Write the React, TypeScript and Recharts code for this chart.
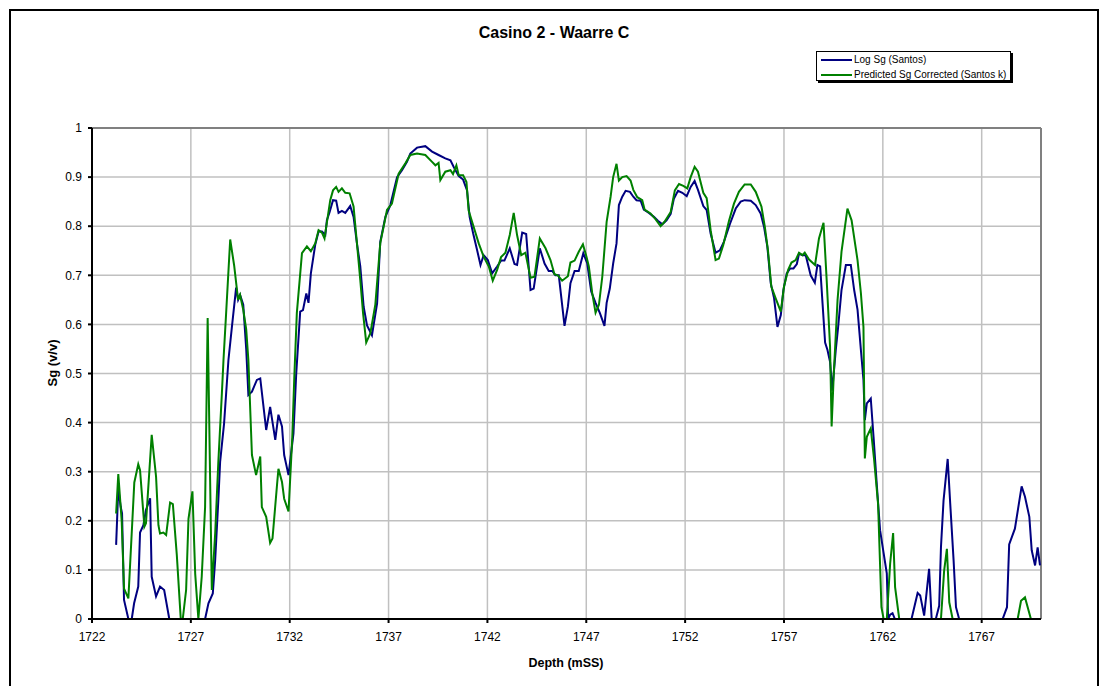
import React from 'react'
import { LineChart, Line, XAxis, YAxis, CartesianGrid, ReferenceLine } from 'recharts'

// Log Sg (Santos) – depth (mSS) and gas saturation
const logDepth = [
  1723.22, 1723.33, 1723.45, 1723.52, 1723.62, 1723.84, 1724.01, 1724.13, 1724.34, 1724.43,
  1724.6, 1724.73, 1724.94, 1725.02, 1725.24, 1725.44, 1725.65, 1725.91, 1727.72, 1727.89,
  1728.11, 1728.23, 1728.39, 1728.48, 1728.68, 1728.9, 1729.09, 1729.29, 1729.39, 1729.49,
  1729.65, 1729.8, 1729.91, 1730.09, 1730.34, 1730.51, 1730.81, 1731.01, 1731.27, 1731.43,
  1731.61, 1731.72, 1731.94, 1732.19, 1732.33, 1732.53, 1732.67, 1732.84, 1732.95, 1733.07,
  1733.29, 1733.46, 1733.63, 1733.8, 1733.88, 1734.02, 1734.19, 1734.35, 1734.47, 1734.64,
  1734.81, 1735.06, 1735.23, 1735.4, 1735.57, 1735.74, 1735.91, 1736.16, 1736.42, 1736.58,
  1736.84, 1737.09, 1737.43, 1737.68, 1737.93, 1738.1, 1738.44, 1738.86, 1739.2, 1739.53,
  1739.87, 1740.13, 1740.29, 1740.55, 1740.77, 1740.97, 1741.1, 1741.28, 1741.48, 1741.65,
  1741.81, 1742.02, 1742.24, 1742.49, 1742.69, 1742.86, 1743.13, 1743.37, 1743.5, 1743.76,
  1743.96, 1744.18, 1744.34, 1744.65, 1744.89, 1745.1, 1745.28, 1745.44, 1745.61, 1745.9,
  1746.07, 1746.2, 1746.41, 1746.62, 1746.85, 1747.05, 1747.25, 1747.47, 1747.69, 1747.92,
  1748.03, 1748.19, 1748.36, 1748.53, 1748.65, 1748.82, 1748.99, 1749.21, 1749.38, 1749.54,
  1749.75, 1749.91, 1750.17, 1750.42, 1750.62, 1750.85, 1751.06, 1751.27, 1751.43, 1751.64,
  1751.86, 1752.08, 1752.28, 1752.48, 1752.65, 1752.92, 1753.09, 1753.29, 1753.54, 1753.76,
  1753.96, 1754.27, 1754.56, 1754.81, 1755.01, 1755.32, 1755.57, 1755.82, 1755.99, 1756.16,
  1756.33, 1756.5, 1756.67, 1756.84, 1756.97, 1757.14, 1757.31, 1757.48, 1757.65, 1757.76,
  1757.93, 1758.1, 1758.35, 1758.56, 1758.69, 1758.83, 1758.95, 1759.08, 1759.2, 1759.33,
  1759.44, 1759.62, 1759.74, 1759.91, 1760.13, 1760.38, 1760.55, 1760.72, 1760.89, 1761.02,
  1761.09, 1761.19, 1761.39, 1761.53, 1761.7, 1761.86, 1762.04, 1762.2, 1762.27, 1762.37,
  1762.49, 1762.61, 1763.45, 1763.76, 1763.89, 1764.09, 1764.34, 1764.47, 1764.68, 1764.85,
  1764.94, 1765.07, 1765.28, 1765.41, 1765.58, 1765.7, 1765.86, 1768.06, 1768.28, 1768.39,
  1768.68, 1769.02, 1769.19, 1769.41, 1769.53, 1769.7, 1769.83, 1769.95,
]
const logSg = [
  0.151, 0.266, 0.229, 0.215, 0.039, 0, 0, 0.032, 0.066, 0.176,
  0.191, 0.222, 0.246, 0.086, 0.046, 0.066, 0.059, 0, 0, 0.032,
  0.052, 0.12, 0.242, 0.32, 0.398, 0.527, 0.6, 0.675, 0.65, 0.66,
  0.64, 0.55, 0.456, 0.463, 0.487, 0.49, 0.385, 0.432, 0.365, 0.416,
  0.392, 0.334, 0.293, 0.378, 0.5, 0.626, 0.629, 0.663, 0.644, 0.704,
  0.762, 0.789, 0.789, 0.782, 0.812, 0.829, 0.853, 0.852, 0.827, 0.831,
  0.827, 0.841, 0.819, 0.765, 0.718, 0.636, 0.598, 0.578, 0.643, 0.768,
  0.819, 0.843, 0.9, 0.914, 0.931, 0.948, 0.96, 0.963, 0.952, 0.945,
  0.938, 0.934, 0.921, 0.902, 0.895, 0.873, 0.819, 0.785, 0.751, 0.721,
  0.741, 0.731, 0.704, 0.718, 0.73, 0.73, 0.755, 0.723, 0.721, 0.787,
  0.784, 0.67, 0.673, 0.755, 0.724, 0.709, 0.709, 0.7, 0.7, 0.597,
  0.636, 0.684, 0.709, 0.709, 0.745, 0.724, 0.667, 0.644, 0.623, 0.597,
  0.644, 0.673, 0.724, 0.765, 0.843, 0.86, 0.872, 0.87, 0.86, 0.853,
  0.852, 0.834, 0.827, 0.819, 0.811, 0.804, 0.812, 0.825, 0.856, 0.872,
  0.868, 0.861, 0.88, 0.892, 0.874, 0.841, 0.833, 0.785, 0.746, 0.751,
  0.768, 0.805, 0.836, 0.85, 0.853, 0.852, 0.843, 0.826, 0.799, 0.758,
  0.684, 0.653, 0.595, 0.619, 0.67, 0.704, 0.714, 0.714, 0.723, 0.744,
  0.741, 0.741, 0.7, 0.685, 0.721, 0.718, 0.643, 0.563, 0.548, 0.524,
  0.465, 0.548, 0.595, 0.67, 0.721, 0.721, 0.67, 0.63, 0.548, 0.487,
  0.405, 0.439, 0.449, 0.371, 0.27, 0.181, 0.134, 0.093, 0, 0.009,
  0.012, 0, 0, 0.053, 0.048, 0.007, 0.102, 0, 0, 0.027,
  0.146, 0.241, 0.326, 0.234, 0.119, 0.024, 0, 0, 0.024, 0.152,
  0.184, 0.27, 0.249, 0.208, 0.14, 0.109, 0.146, 0.109,
]

// Predicted Sg Corrected (Santos k)
const predDepth = [
  1723.22, 1723.33, 1723.5, 1723.62, 1723.84, 1724.14, 1724.34, 1724.43, 1724.65, 1724.73,
  1725.02, 1725.24, 1725.36, 1725.44, 1725.61, 1725.75, 1725.95, 1726.09, 1726.29, 1726.49,
  1726.59, 1726.76, 1726.88, 1727.08, 1727.22, 1727.38, 1727.55, 1727.72, 1727.85, 1728.06,
  1728.23, 1728.39, 1728.57, 1728.65, 1728.78, 1728.99, 1729.19, 1729.39, 1729.49, 1729.65,
  1729.8, 1729.91, 1730.09, 1730.3, 1730.51, 1730.59, 1730.81, 1731.01, 1731.13, 1731.35,
  1731.43, 1731.61, 1731.72, 1731.94, 1732.13, 1732.23, 1732.36, 1732.62, 1732.87, 1733.07,
  1733.29, 1733.46, 1733.63, 1733.76, 1734.05, 1734.19, 1734.35, 1734.47, 1734.64, 1734.81,
  1735.03, 1735.23, 1735.37, 1735.57, 1735.71, 1735.87, 1736.08, 1736.33, 1736.58, 1736.92,
  1737.17, 1737.51, 1737.85, 1738.1, 1738.44, 1738.86, 1739.2, 1739.37, 1739.53, 1739.62,
  1739.87, 1740.13, 1740.26, 1740.43, 1740.55, 1740.77, 1740.94, 1741.05, 1741.31, 1741.56,
  1741.81, 1742.07, 1742.27, 1742.49, 1742.69, 1742.91, 1743.13, 1743.33, 1743.5, 1743.71,
  1743.92, 1744.18, 1744.38, 1744.65, 1744.94, 1745.19, 1745.39, 1745.56, 1745.78, 1746.07,
  1746.2, 1746.41, 1746.62, 1746.83, 1747.01, 1747.13, 1747.3, 1747.47, 1747.64, 1747.81,
  1748.03, 1748.23, 1748.36, 1748.53, 1748.65, 1748.82, 1749.04, 1749.24, 1749.38, 1749.58,
  1749.83, 1749.95, 1750.25, 1750.51, 1750.76, 1750.96, 1751.27, 1751.48, 1751.69, 1751.91,
  1752.11, 1752.28, 1752.48, 1752.65, 1752.92, 1753.09, 1753.29, 1753.54, 1753.71, 1753.93,
  1754.22, 1754.47, 1754.72, 1755.01, 1755.32, 1755.57, 1755.86, 1756.03, 1756.19, 1756.36,
  1756.58, 1756.84, 1757.0, 1757.21, 1757.38, 1757.59, 1757.76, 1757.93, 1758.05, 1758.27,
  1758.57, 1758.77, 1759.0, 1759.16, 1759.33, 1759.41, 1759.52, 1759.71, 1759.91, 1760.21,
  1760.42, 1760.72, 1760.89, 1761.02, 1761.09, 1761.19, 1761.39, 1761.56, 1761.76, 1761.93,
  1762.04, 1762.2, 1762.37, 1762.52, 1762.62, 1762.83, 1764.94, 1765.1, 1765.24, 1765.36,
  1765.53, 1768.82, 1768.99, 1769.19, 1769.49, 1770.0,
]
const predSg = [
  0.215, 0.295, 0.201, 0.062, 0.042, 0.278, 0.315, 0.303, 0.188, 0.195,
  0.375, 0.29, 0.191, 0.174, 0.176, 0.171, 0.237, 0.234, 0.13, 0,
  0, 0.059, 0.204, 0.26, 0.092, 0, 0.086, 0.228, 0.613, 0.059,
  0.174, 0.32, 0.46, 0.527, 0.62, 0.773, 0.72, 0.65, 0.66, 0.63,
  0.59, 0.527, 0.334, 0.293, 0.331, 0.228, 0.208, 0.155, 0.164, 0.269,
  0.306, 0.279, 0.245, 0.219, 0.37, 0.49, 0.623, 0.745, 0.759, 0.749,
  0.765, 0.792, 0.787, 0.775, 0.853, 0.873, 0.88, 0.87, 0.877, 0.868,
  0.867, 0.84, 0.779, 0.69, 0.623, 0.563, 0.582, 0.64, 0.765, 0.833,
  0.846, 0.907, 0.928, 0.945, 0.948, 0.945, 0.931, 0.924, 0.929, 0.894,
  0.911, 0.914, 0.906, 0.924, 0.904, 0.904, 0.89, 0.832, 0.798, 0.765,
  0.738, 0.718, 0.689, 0.711, 0.737, 0.746, 0.782, 0.827, 0.782, 0.741,
  0.746, 0.695, 0.697, 0.775, 0.755, 0.731, 0.702, 0.7, 0.689, 0.698,
  0.726, 0.73, 0.748, 0.763, 0.738, 0.718, 0.664, 0.624, 0.64, 0.697,
  0.809, 0.86, 0.9, 0.927, 0.893, 0.9, 0.902, 0.893, 0.874, 0.859,
  0.853, 0.834, 0.826, 0.814, 0.8, 0.809, 0.829, 0.873, 0.886, 0.882,
  0.877, 0.9, 0.921, 0.911, 0.868, 0.857, 0.792, 0.731, 0.734, 0.762,
  0.811, 0.846, 0.87, 0.885, 0.885, 0.87, 0.84, 0.799, 0.751, 0.677,
  0.653, 0.626, 0.677, 0.711, 0.726, 0.731, 0.746, 0.741, 0.746, 0.732,
  0.721, 0.775, 0.807, 0.69, 0.555, 0.392, 0.5, 0.65, 0.748, 0.836,
  0.812, 0.731, 0.664, 0.595, 0.327, 0.371, 0.388, 0.324, 0.234, 0.024,
  0, 0, 0.113, 0.175, 0.065, 0, 0, 0.098, 0.143, 0.034,
  0, 0, 0.037, 0.044, 0, 0,
]

const depthTicks = [1722, 1727, 1732, 1737, 1742, 1747, 1752, 1757, 1762, 1767]
const sgTicks = [0, 0.1, 0.2, 0.3, 0.4, 0.5, 0.6, 0.7, 0.8, 0.9, 1]

const logData = logDepth.map((depth, i) => ({ depth, sg: logSg[i] }))
const predData = predDepth.map((depth, i) => ({ depth, sg: predSg[i] }))

const FONT = '"Liberation Sans", Arial, sans-serif'
const BLUE = '#000080'
const GREEN = '#008000'

const legendItems = [
  { name: 'Log Sg (Santos)', color: BLUE },
  { name: 'Predicted Sg Corrected (Santos k)', color: GREEN },
]

export default function App() {
  return (
    <div style={{ position: 'absolute', left: 0, top: 0, width: 1100, height: 686, overflow: 'hidden', background: '#fff', fontFamily: FONT }}>
      {/* chart frame */}
      <div style={{ position: 'absolute', left: 9, top: 9, width: 1086, height: 700, border: '2px solid #000' }} />

      <div style={{ position: 'absolute', left: 0, width: 1100, top: 24, textAlign: 'center', paddingLeft: 8, boxSizing: 'border-box', fontSize: 16, fontWeight: 'bold', color: '#000' }}>
        Casino 2 - Waarre C
      </div>

      {/* legend */}
      <div style={{ position: 'absolute', left: 816, top: 51, width: 193, height: 28, border: '1px solid #000', boxShadow: '2px 2px 0 #000', background: '#fff', fontSize: 10, color: '#000' }}>
        {legendItems.map((s, i) => (
          <div key={s.name} style={{ position: 'absolute', left: 4, top: 1 + i * 15, height: 13, display: 'flex', alignItems: 'center', whiteSpace: 'nowrap' }}>
            <span style={{ display: 'inline-block', width: 31, height: 2, background: s.color, marginRight: 2 }} />
            {s.name}
          </div>
        ))}
      </div>

      <div style={{ position: 'absolute', left: 52, top: 363, transform: 'translate(-50%, -50%) rotate(-90deg)', fontSize: 13, fontWeight: 'bold', whiteSpace: 'nowrap' }}>
        Sg (v/v)
      </div>
      <div style={{ position: 'absolute', left: 566, top: 663, transform: 'translate(-50%, -50%)', fontSize: 12.5, fontWeight: 'bold', whiteSpace: 'nowrap' }}>
        Depth (mSS)
      </div>

      <div style={{ position: 'absolute', left: 0, top: 0 }}>
        <LineChart width={1100} height={686} margin={{ top: 128, right: 59, bottom: 37, left: 0 }}>
          <CartesianGrid stroke="#c0c0c0" strokeWidth={1.5} />
          <XAxis
            type="number"
            dataKey="depth"
            domain={[1722, 1770]}
            ticks={depthTicks}
            allowDataOverflow
            height={30}
            tickSize={4}
            tickMargin={9}
            axisLine={{ stroke: '#000', strokeWidth: 2 }}
            tickLine={{ stroke: '#000', strokeWidth: 2 }}
            tick={{ fill: '#000', fontSize: 12, fontFamily: FONT }}
          />
          <YAxis
            type="number"
            domain={[0, 1]}
            ticks={sgTicks}
            width={92}
            tickSize={4}
            tickMargin={6}
            axisLine={{ stroke: '#000', strokeWidth: 2 }}
            tickLine={{ stroke: '#000', strokeWidth: 2 }}
            tick={{ fill: '#000', fontSize: 12, fontFamily: FONT }}
          />
          <ReferenceLine y={1} stroke="#808080" strokeWidth={2} />
          <ReferenceLine x={1770} stroke="#808080" strokeWidth={2} />
          <Line data={logData} dataKey="sg" type="linear" stroke={BLUE} strokeWidth={2} dot={false} isAnimationActive={false} name="Log Sg (Santos)" />
          <Line data={predData} dataKey="sg" type="linear" stroke={GREEN} strokeWidth={2} dot={false} isAnimationActive={false} name="Predicted Sg Corrected (Santos k)" />
        </LineChart>
      </div>
    </div>
  )
}
